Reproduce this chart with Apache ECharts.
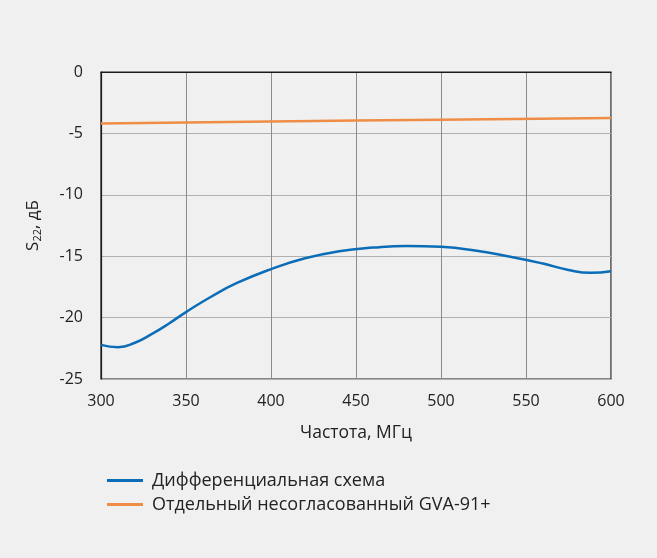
<!DOCTYPE html>
<html>
<head>
<meta charset="utf-8">
<script src="https://cdn.jsdelivr.net/npm/echarts@6/dist/echarts.min.js"></script>
<style>
  html, body { margin: 0; padding: 0; background: #f0f0f0; }
  #chart { width: 657px; height: 558px; }
</style>
</head>
<body>
<div id="chart"></div>
<script>
// частота, МГц
const freqDiff = [300, 310, 320, 330, 340, 350, 365, 380, 400, 420, 440, 460, 480, 500, 520, 540, 560, 575, 588, 600];
// S22 дифференциальной схемы, дБ
const s22Diff = [-22.22, -22.41, -22.05, -21.33, -20.48, -19.55, -18.28, -17.18, -16.05, -15.17, -14.6, -14.3, -14.16, -14.24, -14.54, -15.02, -15.6, -16.12, -16.35, -16.22];

const freqGva = [300, 400, 500, 600];
// S22 отдельного GVA-91+, дБ
const s22Gva = [-4.2, -4.03, -3.88, -3.75];

const seriesNames = ["Дифференциальная схема", "Отдельный несогласованный GVA-91+"];

const font = "'Open Sans', 'Noto Sans', sans-serif";

const myChart = echarts.init(document.getElementById("chart"));
myChart.setOption({
  backgroundColor: "#f0f0f0",
  animation: false,
  textStyle: { fontFamily: font },
  grid: {
    left: 101,
    top: 72,
    right: 46,
    bottom: 179,
    show: true,
    borderColor: "#1a1a1a",
    borderWidth: 1.2,
  },
  legend: {
    orient: "vertical",
    left: 102,
    top: 466,
    icon: "rect",
    itemWidth: 36,
    itemHeight: 3,
    itemGap: 5,
    textStyle: { fontSize: 18, lineHeight: 19, color: "#222", fontFamily: font, padding: [0, 0, 0, 4] },
    data: seriesNames,
  },
  xAxis: {
    type: "value",
    min: 300,
    max: 600,
    interval: 50,
    name: "Частота, МГц",
    nameLocation: "middle",
    nameGap: 45,
    nameTextStyle: { fontSize: 17.5, color: "#222" },
    axisLine: { show: true, lineStyle: { color: "#1a1a1a", width: 1.2 } },
    axisTick: { show: false },
    axisLabel: { fontSize: 16, color: "#222", margin: 14 },
    splitLine: { show: true, lineStyle: { color: "#8c8c8c", width: 1 } },
  },
  yAxis: {
    type: "value",
    min: -25,
    max: 0,
    interval: 5,
    name: "{s|S}{sub|22}{s|, дБ}",
    nameLocation: "middle",
    nameGap: 58,
    nameRotate: 90,
    nameTextStyle: {
      color: "#222",
      rich: {
        s: { fontSize: 17, color: "#222", fontFamily: font },
        sub: { fontSize: 11, color: "#222", fontFamily: font, verticalAlign: "bottom", padding: [8, 0, 0, 0] },
      },
    },
    axisLine: { show: true, lineStyle: { color: "#1a1a1a", width: 1.2 } },
    axisTick: { show: false },
    axisLabel: { fontSize: 16, color: "#222", margin: 18 },
    splitLine: { show: true, lineStyle: { color: "#b0b0b0", width: 1 } },
  },
  series: [
    {
      name: seriesNames[0],
      type: "line",
      smooth: true,
      symbol: "none",
      color: "#0b6db7",
      lineStyle: { width: 2.5, color: "#0b6db7" },
      data: freqDiff.map((f, i) => [f, s22Diff[i]]),
    },
    {
      name: seriesNames[1],
      type: "line",
      smooth: true,
      symbol: "none",
      color: "#ef8c45",
      lineStyle: { width: 2.5, color: "#ef8c45" },
      data: freqGva.map((f, i) => [f, s22Gva[i]]),
    },
  ],
});
</script>
</body>
</html>
